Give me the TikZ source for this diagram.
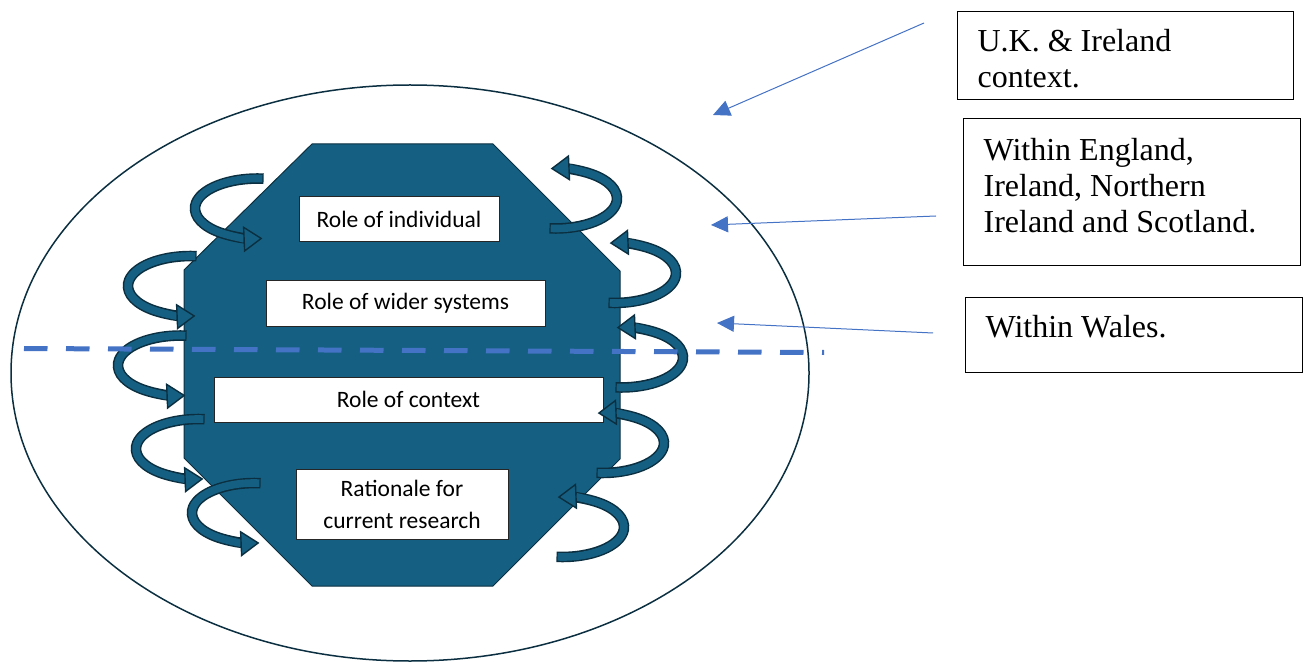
\documentclass[tikz,border=0pt]{standalone}
\usepackage{fontspec}
\setmainfont{Liberation Serif}
\newfontfamily\rolefont{Carlito}
\usetikzlibrary{arrows.meta}

\definecolor{octfill}{HTML}{156082}
\definecolor{octline}{HTML}{0B2F40}
\definecolor{ptrblue}{HTML}{4472C4}

\tikzstyle{rim}=[draw=octline, line width=0.75pt]
\tikzstyle{octo}=[fill=octfill, draw=octline, line width=0.5pt]
\tikzstyle{role}=[draw=black!85, line width=0.5pt, fill=white, inner sep=0pt, align=center, font={\rolefont\fontsize{11.75}{16}\selectfont}]
\tikzstyle{place}=[draw=black, line width=0.6pt, fill=white, anchor=north west, inner xsep=10pt, inner ysep=0pt, font={\fontsize{16}{18}\selectfont}]
\tikzstyle{ptr}=[draw=ptrblue, line width=0.5pt, -{Triangle[length=8.5pt 0, width=8pt 0]}]
\tikzstyle{ribedge}=[draw=octline, line width=5.3pt, shorten >=6pt, shorten <=-0.6pt]
\tikzstyle{ribbon}=[draw=octfill, line width=3.8pt, -{Triangle[length=9.5pt 0, width=13pt 0, fill=octfill, color=octline, line width=0.7pt 0]}]
\tikzstyle{border}=[draw=ptrblue, line width=2.5pt, dash pattern=on 11.75pt off 9.25pt]

\begin{document}
\begin{tikzpicture}[x=0.5pt, y=-0.5pt]
  \useasboundingbox (0,0) rectangle (1304,662);

  \draw [rim] (410,373) ellipse [x radius=399, y radius=288];
  \draw [octo] (312,144) -- (493,144) -- (620,271) -- (620,459) -- (493,586)
    -- (312,586) -- (184,458) -- (184,270) -- cycle;

  \node [role, minimum width=100pt, minimum height=22.5pt] (indiv) at (399,219.5) {Role of individual};
  \node [role, minimum width=139.5pt, minimum height=22.5pt] (wider) at (405.5,303.5) {Role of wider systems};
  \node [role, minimum width=194.5pt, minimum height=22.5pt] (ctx) at (408.5,399.5) {Role of context};
  \node [role, minimum width=106pt, minimum height=35pt] (rat) at (402,504) {Rationale for\\current research};

  % turning arrows, left side then right side
  \foreach \cx/\cy in {257/208.5, 190/286, 180/365.5, 198/449, 254/513} {
    \draw [ribedge] (\cx,\cy) ++(275:62 and 30) arc [start angle=275, end angle=85, x radius=62, y radius=30];
    \draw [ribbon] (\cx,\cy) ++(275:62 and 30) arc [start angle=275, end angle=85, x radius=62, y radius=30];
  }
  \foreach \cx/\cy in {556/198.5, 615/273, 622/357.5, 603/443, 563/527} {
    \draw [ribedge] (\cx,\cy) ++(95:61 and 30) arc [start angle=95, end angle=-95, x radius=61, y radius=30];
    \draw [ribbon] (\cx,\cy) ++(95:61 and 30) arc [start angle=95, end angle=-95, x radius=61, y radius=30];
  }

  \draw [border] (24,348.5) -- (824,352.5);

  \node [place, text height=20pt, text depth=24pt] (uk) at (957,11)
    {\parbox[t]{148pt}{U.K. \& Ireland\\context.}};
  \node [place, text height=21pt, text depth=52.5pt] (nations) at (963,118)
    {\parbox[t]{148.5pt}{Within England,\\Ireland, Northern\\Ireland and Scotland.}};
  \node [place, text height=20pt, text depth=17.5pt] (wales) at (965,297)
    {\parbox[t]{148.5pt}{Within Wales.}};

  \coordinate (ukfrom) at (924,23);
  \coordinate (ukto) at (713,115);
  \coordinate (nationsfrom) at (936,216);
  \coordinate (nationsto) at (711,225);
  \coordinate (walesfrom) at (933,333);
  \coordinate (walesto) at (717,323);
  \draw [ptr] (ukfrom) -- (ukto);
  \draw [ptr] (nationsfrom) -- (nationsto);
  \draw [ptr] (walesfrom) -- (walesto);
\end{tikzpicture}
\end{document}
